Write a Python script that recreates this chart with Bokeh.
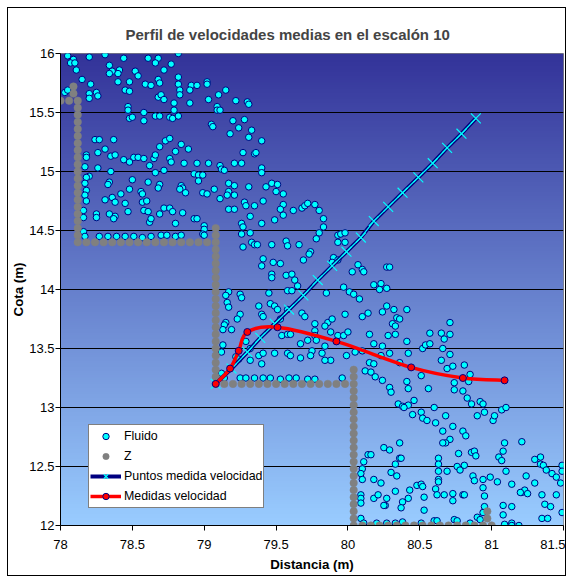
import numpy as np
from bokeh.plotting import figure
from bokeh.models import Range1d, FixedTicker, NumeralTickFormatter, Legend, LegendItem
from bokeh.embed import file_html
from bokeh.resources import INLINE

title_text = "Perfil de velocidades medias en el escalón 10"
x_label = "Distancia (m)"
y_label = "Cota (m)"
x_ticks = [78, 78.5, 79, 79.5, 80, 80.5, 81, 81.5]
y_ticks = [12, 12.5, 13, 13.5, 14, 14.5, 15, 15.5, 16]

# Serie "Fluido"
fluido_x = [
    78.05, 78.09, 78.07, 78.10, 78.20, 78.31, 78.44, 78.61, 78.68, 78.66,
    78.77, 78.82, 78.11, 78.34, 78.36, 78.34, 78.41, 78.40, 78.52, 78.54,
    78.72, 78.82, 78.15, 78.21, 78.40, 78.48, 78.59, 78.63, 78.68, 78.69,
    78.82, 78.83, 78.83, 78.91, 78.95, 79.02, 79.02, 78.03, 78.05, 78.20,
    78.20, 78.25, 78.26, 78.45, 78.48, 78.68, 78.70, 78.72, 78.79, 78.90,
    78.90, 79.03, 79.10, 79.15, 79.22, 79.30, 79.31, 78.47, 78.47, 78.58,
    78.48, 78.50, 78.58, 78.66, 78.69, 78.76, 78.78, 78.82, 78.79, 79.09,
    79.09, 79.11, 79.05, 79.06, 79.20, 79.28, 79.24, 79.33, 79.18, 79.31,
    78.24, 78.27, 78.37, 78.31, 78.69, 78.73, 78.76, 78.80, 78.84, 78.89,
    78.18, 78.18, 78.26, 78.35, 78.38, 78.44, 78.48, 78.51, 78.54, 78.58,
    78.62, 78.65, 78.66, 78.76, 78.77, 78.86, 78.95, 79.03, 79.11, 79.12,
    79.14, 79.21, 79.26, 79.27, 79.35, 78.17, 78.26, 78.35, 78.66, 78.72,
    78.93, 78.96, 78.99, 78.96, 78.20, 78.18, 78.34, 78.33, 78.50, 78.61,
    78.48, 78.56, 78.57, 78.69, 78.68, 78.84, 78.85, 78.83, 78.87, 78.99,
    79.02, 79.07, 79.17, 79.21, 79.17, 79.16, 79.21, 79.31, 78.17, 78.18,
    78.17, 78.18, 78.31, 78.36, 78.38, 78.42, 78.45, 78.47, 78.57, 78.60,
    78.58, 78.61, 78.69, 78.72, 78.76, 78.78, 78.85, 78.93, 78.95, 79.11,
    79.17, 79.21, 79.28, 79.29, 79.32, 79.35, 78.16, 78.16, 78.25, 78.25,
    78.34, 78.38, 78.37, 78.62, 78.63, 78.80, 79.00, 79.00, 78.99, 79.00,
    79.26, 79.27, 79.26, 79.32, 78.16, 78.17, 78.27, 78.33, 78.39, 78.45,
    78.51, 78.57, 78.63, 78.70, 78.74, 78.80, 78.84, 79.27, 79.33, 79.35,
    79.37, 79.40, 79.36, 79.40, 79.40, 79.47, 79.51, 79.43, 79.50, 79.55,
    79.41, 79.55, 79.53, 79.55, 79.62, 79.68, 79.70, 79.72, 79.77, 79.80,
    79.83, 79.83, 79.80, 79.78, 79.40, 79.49, 79.93, 79.95, 79.98, 79.98,
    79.57, 79.47, 79.66, 79.58, 79.74, 79.73, 79.93, 79.41, 79.40, 79.48,
    79.53, 79.69, 79.90, 79.93, 79.89, 80.07, 80.03, 80.10, 80.11, 80.27,
    80.29, 79.47, 79.47, 79.57, 79.61, 79.63, 79.65, 79.58, 79.61, 79.45,
    79.85, 79.97, 80.01, 80.04, 80.08, 80.18, 80.23, 80.22, 80.27, 79.17,
    79.15, 79.25, 79.26, 79.16, 79.17, 79.38, 79.46, 79.49, 79.51, 79.40,
    79.41, 79.25, 79.23, 79.15, 79.14, 79.13, 79.19, 79.53, 79.58, 79.68,
    79.70, 79.77, 79.77, 79.77, 79.86, 79.89, 79.84, 79.88, 79.93, 79.97,
    80.00, 79.98, 80.10, 80.14, 80.27, 80.24, 80.32, 80.34, 80.31, 80.33,
    80.36, 80.15, 80.18, 80.24, 80.28, 80.33, 79.54, 79.58, 79.60, 79.67,
    79.72, 79.78, 79.84, 79.13, 79.12, 79.29, 79.32, 79.38, 79.41, 79.49,
    79.58, 79.60, 79.32, 79.40, 79.75, 79.74, 79.82, 79.88, 79.99, 80.05,
    80.10, 80.15, 80.18, 80.23, 80.29, 80.36, 79.22, 79.24, 79.84, 79.67,
    79.12, 79.14, 79.25, 79.29, 79.35, 79.41, 79.46, 79.53, 79.59, 79.64,
    79.72, 79.77, 79.96, 80.12, 80.16, 80.19, 80.24, 80.29, 80.30, 80.41,
    80.57, 80.65, 80.71, 80.71, 80.67, 80.41, 80.52, 80.54, 80.57, 80.66,
    80.42, 80.71, 80.65, 80.69, 80.73, 80.81, 80.85, 80.51, 80.84, 80.74,
    80.41, 80.42, 80.56, 80.74, 80.80, 80.83, 80.46, 80.92, 80.86, 80.94,
    80.90, 80.95, 81.01, 81.02, 81.07, 81.10, 80.35, 80.38, 80.42, 80.39,
    80.45, 80.51, 80.52, 80.55, 80.60, 80.61, 80.68, 80.66, 80.73, 80.80,
    80.82, 80.71, 80.68, 80.66, 80.36, 80.25, 80.29, 80.14, 80.16, 80.11,
    80.10, 80.09, 80.10, 80.18, 80.23, 80.30, 80.34, 80.33, 80.36, 80.37,
    80.63, 80.63, 80.63, 80.63, 80.63, 80.69, 80.76, 80.78, 80.81, 80.77,
    80.86, 80.88, 80.89, 80.87, 80.88, 80.94, 80.99, 81.04, 81.05, 81.07,
    81.08, 81.09, 81.10, 81.14, 81.21, 81.24, 81.30, 81.30, 81.34, 81.34,
    81.36, 81.38, 81.42, 81.45, 81.48, 81.49, 81.49, 81.49, 81.21, 81.23,
    81.25, 81.20, 81.35, 81.45, 81.37, 81.41, 81.35, 81.39, 80.09, 80.09,
    80.09, 80.18, 80.21, 80.27, 80.26, 80.25, 80.33, 80.38, 80.37, 80.43,
    80.42, 80.48, 80.51, 80.52, 80.53, 80.53, 80.61, 80.62, 80.67, 80.73,
    80.73, 80.80, 80.81, 80.94, 80.95, 80.95, 80.94, 80.90, 80.92, 81.08,
    81.14, 81.08, 81.09, 81.14, 81.14, 81.19, 80.09, 80.11, 80.20, 80.27,
    80.33, 80.38, 80.51, 80.60, 80.62, 80.74, 80.76, 80.85,
]
fluido_y = [
    15.98, 15.95, 15.92, 15.92, 15.97, 15.99, 15.96, 15.96, 15.96, 15.92,
    15.91, 16.00, 15.86, 15.90, 15.85, 15.83, 15.86, 15.83, 15.85, 15.81,
    15.86, 15.80, 15.78, 15.74, 15.76, 15.76, 15.74, 15.73, 15.78, 15.75,
    15.74, 15.69, 15.65, 15.73, 15.73, 15.76, 15.74, 15.67, 15.69, 15.66,
    15.62, 15.67, 15.64, 15.69, 15.68, 15.63, 15.65, 15.61, 15.58, 15.69,
    15.58, 15.61, 15.65, 15.69, 15.60, 15.59, 15.57, 15.55, 15.52, 15.50,
    15.45, 15.46, 15.43, 15.47, 15.47, 15.46, 15.45, 15.47, 15.52, 15.55,
    15.52, 15.52, 15.40, 15.38, 15.43, 15.44, 15.37, 15.35, 15.32, 15.29,
    15.27, 15.27, 15.27, 15.19, 15.21, 15.26, 15.28, 15.17, 15.23, 15.19,
    15.14, 15.12, 15.16, 15.13, 15.14, 15.10, 15.08, 15.12, 15.12, 15.11,
    15.05, 15.11, 15.14, 15.11, 15.08, 15.07, 15.07, 15.07, 15.05, 15.02,
    15.01, 15.07, 15.07, 15.16, 15.15, 15.04, 15.03, 15.00, 14.99, 15.01,
    14.98, 14.97, 14.97, 14.92, 14.96, 14.95, 14.91, 14.89, 14.93, 14.91,
    14.85, 14.83, 14.81, 14.89, 14.86, 14.88, 14.86, 14.85, 14.82, 14.82,
    14.81, 14.85, 14.90, 14.88, 14.83, 14.80, 14.80, 14.87, 14.90, 14.84,
    14.80, 14.75, 14.76, 14.78, 14.74, 14.81, 14.73, 14.66, 14.74, 14.75,
    14.67, 14.66, 14.64, 14.69, 14.69, 14.66, 14.65, 14.60, 14.60, 14.77,
    14.68, 14.68, 14.74, 14.71, 14.62, 14.71, 14.67, 14.61, 14.64, 14.61,
    14.64, 14.62, 14.60, 14.57, 14.60, 14.56, 14.54, 14.51, 14.47, 14.46,
    14.56, 14.53, 14.47, 14.48, 14.49, 14.45, 14.45, 14.45, 14.45, 14.45,
    14.45, 14.44, 14.45, 14.46, 14.46, 14.45, 14.46, 14.36, 14.40, 14.38,
    14.38, 15.26, 15.16, 15.03, 14.99, 14.90, 14.89, 14.87, 14.83, 14.81,
    14.75, 14.72, 14.68, 14.63, 14.67, 14.69, 14.71, 14.73, 14.72, 14.67,
    14.60, 14.53, 14.48, 14.43, 14.56, 14.59, 14.46, 14.47, 14.48, 14.40,
    14.41, 14.38, 14.38, 14.37, 14.32, 14.30, 14.40, 14.26, 14.20, 14.23,
    14.22, 14.25, 14.27, 14.25, 14.23, 14.21, 14.15, 14.17, 14.15, 14.19,
    14.19, 14.13, 14.10, 14.12, 14.13, 14.08, 14.03, 13.99, 13.99, 13.97,
    13.97, 14.02, 13.98, 13.96, 13.92, 14.04, 14.05, 14.00, 14.01, 13.98,
    13.95, 13.96, 13.93, 13.89, 13.85, 13.86, 13.88, 13.86, 13.83, 13.79,
    13.77, 13.79, 13.75, 13.72, 13.70, 13.66, 13.66, 13.75, 13.83, 13.80,
    13.77, 13.71, 13.65, 13.61, 13.72, 13.75, 13.69, 13.64, 13.61, 13.61,
    13.64, 13.79, 13.77, 13.80, 13.86, 13.81, 13.83, 13.76, 13.71, 13.69,
    13.75, 13.62, 13.54, 13.52, 13.61, 13.62, 13.61, 13.62, 13.62, 13.54,
    13.57, 13.57, 13.52, 13.53, 13.47, 13.56, 13.50, 13.44, 13.46, 13.46,
    13.46, 13.44, 13.40, 13.37, 13.48, 13.44, 13.46, 13.40, 13.44, 13.47,
    13.48, 13.38, 13.37, 13.44, 13.46, 13.38, 13.43, 13.41, 13.40, 13.42,
    13.29, 13.25, 13.25, 13.25, 13.25, 13.25, 13.25, 13.24, 13.25, 13.25,
    13.24, 13.24, 13.25, 13.31, 13.30, 13.26, 13.23, 13.17, 13.13, 13.83,
    13.63, 13.63, 13.72, 13.62, 13.58, 13.56, 13.50, 13.53, 13.54, 13.50,
    13.46, 13.45, 13.40, 13.33, 13.35, 13.36, 13.28, 13.27, 13.22, 13.21,
    13.22, 13.16, 13.16, 13.15, 13.14, 13.08, 13.06, 13.05, 13.03, 13.03,
    12.93, 12.96, 12.89, 12.93, 12.98, 13.00, 13.03, 13.01, 13.02, 13.00,
    12.94, 12.96, 12.91, 12.89, 13.00, 12.87, 12.93, 12.80, 12.84, 12.80,
    12.76, 12.73, 12.70, 12.70, 12.70, 12.66, 12.64, 12.60, 12.60, 12.54,
    12.48, 12.44, 12.39, 12.39, 12.36, 12.45, 12.42, 12.52, 12.57, 12.57,
    12.57, 12.52, 12.46, 12.39, 12.37, 12.46, 12.50, 12.47, 12.51, 12.61,
    12.62, 12.63, 12.59, 12.42, 12.38, 12.39, 12.41, 12.37, 12.58, 12.55,
    12.63, 12.70, 12.46, 12.35, 12.71, 12.42, 12.36, 12.56, 12.58, 12.52,
    12.51, 12.47, 12.44, 12.41, 12.36, 12.51, 12.46, 12.11, 12.28, 12.30,
    12.27, 12.28, 12.26, 12.26, 12.18, 12.16, 12.06, 12.06, 12.26, 12.23,
    12.19, 12.23, 12.26, 12.23, 12.17, 12.17, 12.29, 12.20, 12.15, 12.30,
    12.23, 12.34, 12.35, 12.33, 12.24, 12.13, 12.31, 12.26, 12.26, 12.27,
    12.21, 12.26, 12.26, 12.32, 12.25, 12.16, 12.11, 12.07, 12.05, 12.17,
    12.16, 12.09, 12.01, 12.02, 12.00, 12.00, 12.06, 12.02, 12.02, 12.02,
    12.02, 12.03, 12.02, 12.04, 12.04, 12.05, 12.04, 12.02,
]

# Serie "Z" (contorno del escalón)
z_x = [
    78.00, 78.06, 78.09, 78.09,
    78.12, 78.12, 78.12, 78.12, 78.12, 78.12, 78.12, 78.12, 78.12, 78.12, 78.12,
    78.12, 78.12, 78.12, 78.12, 78.12, 78.12, 78.12, 78.12, 78.12, 78.12,
    78.18, 78.24, 78.30, 78.36, 78.42, 78.48, 78.54, 78.60, 78.66, 78.72, 78.78,
    78.84, 78.90, 78.96, 79.02, 79.08,
    79.08, 79.08,
    79.08, 79.08, 79.08, 79.08, 79.08, 79.08, 79.08, 79.08, 79.08, 79.08,
    79.08, 79.08, 79.08, 79.08, 79.08, 79.08, 79.08, 79.08, 79.08, 79.08,
    79.14, 79.20, 79.26, 79.32, 79.38, 79.44, 79.50, 79.56, 79.62, 79.68, 79.74,
    79.80, 79.86, 79.92, 79.98,
    80.04, 80.04, 80.04, 80.04, 80.04, 80.04, 80.04, 80.04, 80.04, 80.04, 80.04,
    80.04, 80.04, 80.04, 80.04, 80.04, 80.04, 80.04, 80.04, 80.04, 80.04, 80.04,
    80.04,
    80.10, 80.16, 80.22, 80.28, 80.34, 80.40, 80.46, 80.52, 80.58, 80.64, 80.70,
    80.76, 80.82, 80.88, 80.94, 81.00,
    80.97, 80.97,
]
z_y = [
    15.60, 15.60, 15.72, 15.66,
    15.60, 15.54, 15.48, 15.42, 15.36, 15.30, 15.24, 15.18, 15.12, 15.06, 15.00,
    14.94, 14.88, 14.82, 14.76, 14.70, 14.64, 14.58, 14.52, 14.46, 14.40,
    14.40, 14.40, 14.40, 14.40, 14.40, 14.40, 14.40, 14.40, 14.40, 14.40, 14.40,
    14.40, 14.40, 14.40, 14.40, 14.40,
    14.46, 14.52,
    14.34, 14.28, 14.22, 14.16, 14.10, 14.04, 13.98, 13.92, 13.86, 13.80,
    13.74, 13.68, 13.62, 13.56, 13.50, 13.44, 13.38, 13.32, 13.26, 13.20,
    13.20, 13.20, 13.20, 13.20, 13.20, 13.20, 13.20, 13.20, 13.20, 13.20, 13.20,
    13.20, 13.20, 13.20, 13.20,
    13.32, 13.26, 13.20, 13.14, 13.08, 13.02, 12.96, 12.90, 12.84, 12.78, 12.72,
    12.66, 12.60, 12.54, 12.48, 12.42, 12.36, 12.30, 12.24, 12.18, 12.12, 12.06,
    12.00,
    12.00, 12.00, 12.00, 12.00, 12.00, 12.00, 12.00, 12.00, 12.00, 12.00, 12.00,
    12.00, 12.00, 12.00, 12.00, 12.00,
    12.06, 12.12,
]

# Serie "Puntos medida velocidad"
puntos_x = [79.08, 79.19, 79.30, 79.39, 79.49, 79.59, 79.69, 79.79, 79.89, 79.99,
            80.09, 80.18, 80.28, 80.38, 80.49, 80.59, 80.69, 80.79, 80.89]
puntos_y = [13.20, 13.33, 13.47, 13.59, 13.71, 13.83, 13.95, 14.08, 14.20, 14.32,
            14.44, 14.58, 14.70, 14.82, 14.95, 15.07, 15.20, 15.32, 15.45]

# Serie "Medidas velocidad"
medidas_x = [79.08, 79.18, 79.24, 79.30, 79.51, 79.92, 80.44, 80.80, 81.09]
medidas_y = [13.20, 13.33, 13.48, 13.64, 13.68, 13.56, 13.34, 13.25, 13.23]

FONT = "Liberation Sans"

p = figure(width=559, height=569,
           x_range=Range1d(78, 81.5), y_range=Range1d(12, 16),
           output_backend="svg", toolbar_location=None,
           min_border_left=46, min_border_right=4,
           min_border_top=45, min_border_bottom=52,
           title=title_text)
p.styles = {"border": "1px solid black", "margin": "7px 0px 0px 7px"}
p.background_fill_color = "#6680CC"
p.border_fill_color = "white"
p.outline_line_color = "#808080"

# gradient background (style only)
rows = 240
t = np.linspace(0.0, 1.0, rows)
top = np.array([51, 51, 153], dtype=float)
bot = np.array([153, 204, 255], dtype=float)
img = np.empty((rows, 1), dtype=np.uint32)
view = img.view(dtype=np.uint8).reshape((rows, 1, 4))
for k in range(3):
    view[:, 0, k] = np.round(bot[k] + (top[k] - bot[k]) * t).astype(np.uint8)
view[:, 0, 3] = 255
bg = p.image_rgba(image=[img], x=78, y=12, dw=3.5, dh=4)
bg.level = "image"

# title
p.title.text_font = FONT
p.title.text_font_size = "15px"
p.title.text_font_style = "bold"
p.title.align = "left"
p.title.offset = 65
p.title.standoff = 22

# axes
for ax in (p.xaxis[0], p.yaxis[0]):
    ax.formatter = NumeralTickFormatter(format="0.[0]")
    ax.major_tick_in = 0
    ax.major_tick_out = 5
    ax.minor_tick_line_color = None
    ax.axis_line_color = "black"
    ax.major_tick_line_color = "black"
    ax.major_label_text_font = FONT
    ax.major_label_text_font_size = "13px"
    ax.major_label_text_color = "black"
    ax.axis_label_text_font = FONT
    ax.axis_label_text_font_size = "13.3px"
    ax.axis_label_text_font_style = "bold"
    ax.axis_label_text_color = "black"
p.xaxis.ticker = FixedTicker(ticks=x_ticks)
p.yaxis.ticker = FixedTicker(ticks=y_ticks)
p.xaxis.axis_label = x_label
p.yaxis.axis_label = y_label
p.xaxis.major_label_standoff = 9
p.xaxis.axis_label_standoff = 5
p.yaxis.major_label_standoff = 1
p.yaxis.axis_label_standoff = 0

p.xgrid.visible = False
p.ygrid.ticker = FixedTicker(ticks=y_ticks[1:-1])
p.ygrid.grid_line_color = "black"
p.ygrid.grid_line_width = 1

# series
r_fluido = p.scatter(fluido_x, fluido_y, size=6.5, fill_color="#00FFFF",
                     line_color="#000080", line_width=1)
r_z = p.scatter(z_x, z_y, size=7.5, fill_color="#808080", line_color="#808080",
                line_width=0.5)
r_pl = p.line(puntos_x, puntos_y, line_color="#000080", line_width=4)
p.line(puntos_x, puntos_y, line_color="#00FFFF", line_width=1.2)
r_pm = p.scatter(puntos_x, puntos_y, marker="x", size=14, line_color="#00FFFF",
                 line_width=1.2)

# smoothed line through the measured points (Bezier segments)
n = len(medidas_x)
bx0, by0, bx1, by1, bcx0, bcy0, bcx1, bcy1 = ([] for _ in range(8))
for i in range(n - 1):
    i0 = max(i - 1, 0)
    i3 = min(i + 2, n - 1)
    bx0.append(medidas_x[i]); by0.append(medidas_y[i])
    bx1.append(medidas_x[i + 1]); by1.append(medidas_y[i + 1])
    bcx0.append(medidas_x[i] + (medidas_x[i + 1] - medidas_x[i0]) / 6.0)
    bcy0.append(medidas_y[i] + (medidas_y[i + 1] - medidas_y[i0]) / 6.0)
    bcx1.append(medidas_x[i + 1] - (medidas_x[i3] - medidas_x[i]) / 6.0)
    bcy1.append(medidas_y[i + 1] - (medidas_y[i3] - medidas_y[i]) / 6.0)
r_ml = p.bezier(x0=bx0, y0=by0, x1=bx1, y1=by1, cx0=bcx0, cy0=bcy0,
                cx1=bcx1, cy1=bcy1, line_color="#FF0000", line_width=3.5)
r_mm = p.scatter(medidas_x, medidas_y, size=7, fill_color="#FF0000",
                 line_color="#000080", line_width=1)

legend = Legend(items=[
    LegendItem(label="Fluido", renderers=[r_fluido]),
    LegendItem(label="Z", renderers=[r_z]),
    LegendItem(label="Puntos medida velocidad", renderers=[r_pl, r_pm]),
    LegendItem(label="Medidas velocidad", renderers=[r_ml, r_mm]),
], location=(28, 17))
legend.label_text_font = FONT
legend.label_text_font_size = "12.4px"
legend.label_text_color = "black"
legend.glyph_width = 31
legend.glyph_height = 16
legend.label_height = 20
legend.label_standoff = 3
legend.spacing = 0
legend.padding = 1
legend.margin = 0
legend.border_line_color = "black"
legend.border_line_width = 1
legend.background_fill_color = "white"
legend.background_fill_alpha = 1.0
p.add_layout(legend)

open("out.html", "w").write(file_html(p, INLINE))
